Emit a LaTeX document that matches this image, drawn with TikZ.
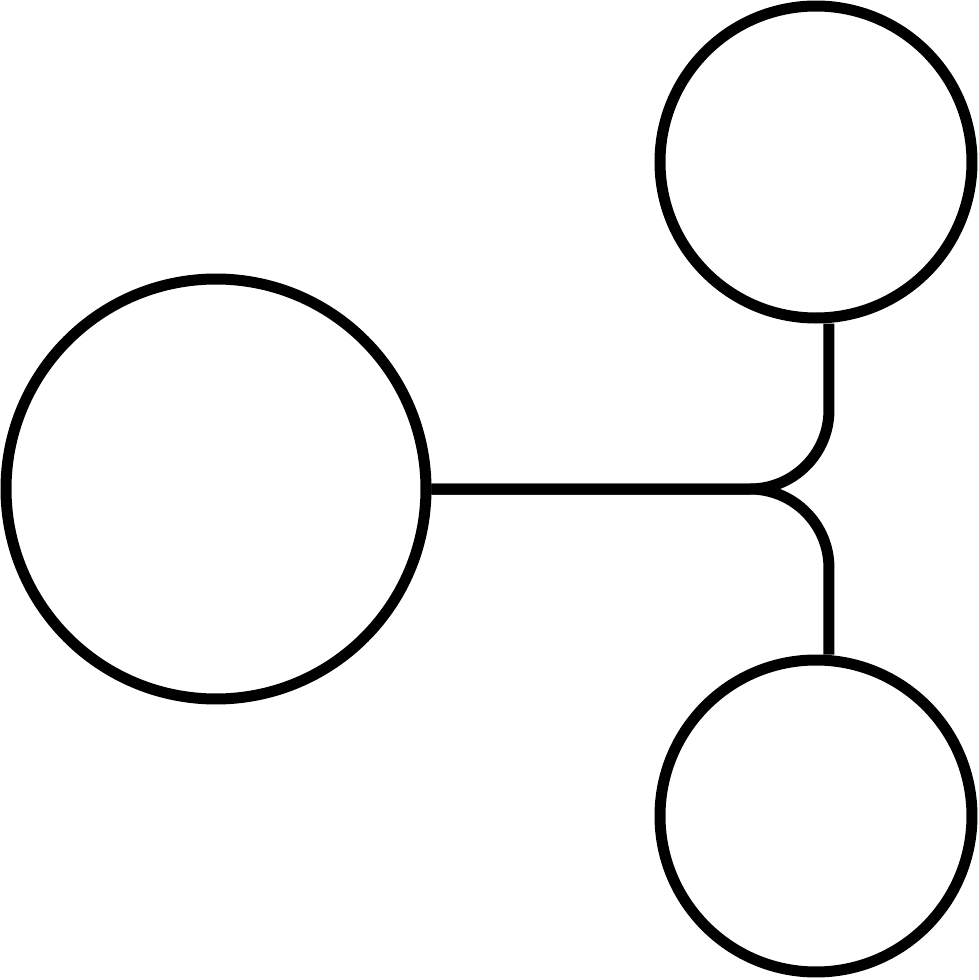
\documentclass[tikz,border=0pt]{standalone}
\begin{document}
\begin{tikzpicture}
	\useasboundingbox (0,0) rectangle (9.79,9.80);
	\begin{scope}[line width=1.1mm]
		\tikzstyle{every node}=[draw,shape=circle,inner sep=0pt,line width=1.1mm];
		\path (2.16,4.91) node [minimum size=4.20cm] (hub) {};
		\path (8.16,8.18) node [minimum size=3.12cm] (top) {};
		\path (8.16,1.64) node [minimum size=3.12cm] (bot) {};
		\coordinate (fork) at (8.29,4.91);
		\draw[rounded corners=7.9mm] (hub.east) -- (fork) -- (top.south -| fork);
		\draw[rounded corners=7.9mm] (hub.east) -- (fork) -- (bot.north -| fork);
	\end{scope}
\end{tikzpicture}
\end{document}
